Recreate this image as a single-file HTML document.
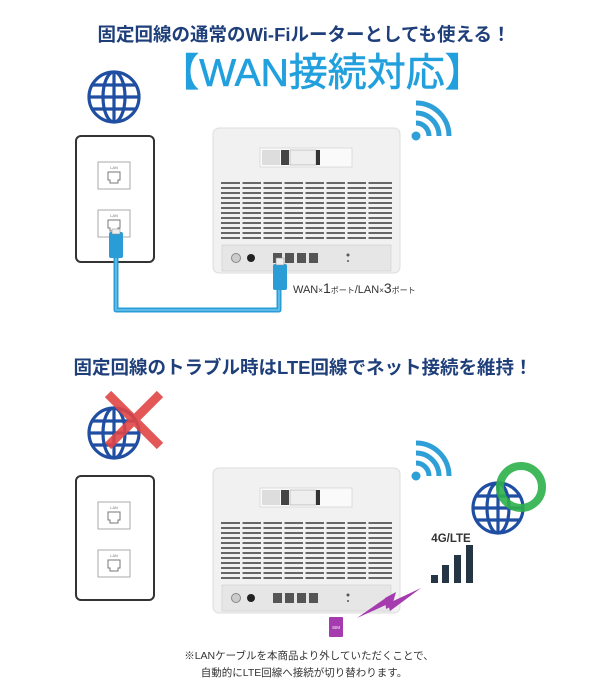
<!DOCTYPE html>
<html><head><meta charset="utf-8"><style>
html,body{margin:0;padding:0;background:#fff;}
svg{display:block}
text{font-family:"Liberation Sans","Noto Sans CJK JP",sans-serif;}
</style></head><body>
<svg width="614" height="700" viewBox="0 0 614 700" xmlns="http://www.w3.org/2000/svg">
<defs>
<g id="globe" fill="none" stroke="#1f4ea3" stroke-width="3.2">
  <circle cx="0" cy="0" r="25"/>
  <ellipse cx="0" cy="0" rx="11" ry="25"/>
  <line x1="0" y1="-25" x2="0" y2="25"/>
  <line x1="-25" y1="0" x2="25" y2="0"/>
  <line x1="-21" y1="-12" x2="21" y2="-12"/>
  <line x1="-21" y1="12" x2="21" y2="12"/>
</g>
<g id="wifi" fill="none" stroke="#2f9fd8" stroke-width="5" stroke-linecap="butt">
  <circle cx="0" cy="0" r="4.5" fill="#2f9fd8" stroke="none"/>
  <path d="M0,-13 A13,13 0 0 1 13,0"/>
  <path d="M0,-23 A23,23 0 0 1 23,0"/>
  <path d="M0,-33 A33,33 0 0 1 33,0"/>
</g>
<g id="lanbox">
  <rect x="0" y="0" width="32" height="27" fill="#fff" stroke="#aaa" stroke-width="1"/>
  <text x="16" y="7" font-size="4" text-anchor="middle" fill="#777">LAN</text>
  <path d="M10,10 h12 v8 h-2 v3 h-8 v-3 h-2 z" fill="none" stroke="#777" stroke-width="1"/>
</g>
<g id="router">
  <rect x="0" y="0" width="187" height="145" rx="6" fill="#f1f1f1" stroke="#ddd"/>
  <rect x="47" y="20" width="92" height="19" fill="#fafafa" stroke="#ccc" stroke-width="0.6"/>
  <rect x="49" y="22" width="18" height="15" fill="#ddd"/>
  <rect x="68" y="22" width="8" height="15" fill="#444"/>
  <rect x="77" y="22" width="26" height="15" fill="#eee" stroke="#999" stroke-width="0.5"/>
  <rect x="103" y="22" width="4" height="15" fill="#333"/>
  <g fill="#666">
    <rect x="8" y="54" width="171" height="2"/><rect x="8" y="59" width="171" height="2"/>
    <rect x="8" y="64" width="171" height="2"/><rect x="8" y="69" width="171" height="2"/>
    <rect x="8" y="74" width="171" height="2"/><rect x="8" y="79" width="171" height="2"/>
    <rect x="8" y="84" width="171" height="2"/><rect x="8" y="89" width="171" height="2"/>
    <rect x="8" y="94" width="171" height="2"/><rect x="8" y="99" width="171" height="2"/>
    <rect x="8" y="104" width="171" height="2"/><rect x="8" y="109" width="171" height="2"/>
  </g>
  <g fill="#f1f1f1">
    <rect x="27" y="52" width="2.5" height="62"/><rect x="48" y="52" width="2.5" height="62"/>
    <rect x="69" y="52" width="2.5" height="62"/><rect x="90" y="52" width="2.5" height="62"/>
    <rect x="111" y="52" width="2.5" height="62"/><rect x="132" y="52" width="2.5" height="62"/>
    <rect x="153" y="52" width="2.5" height="62"/>
  </g>
  <rect x="9" y="117" width="169" height="26" fill="#e6e6e6" stroke="#ccc" stroke-width="0.6"/>
  <circle cx="23" cy="130" r="4.5" fill="#ccc" stroke="#888"/>
  <circle cx="38" cy="130" r="4" fill="#222"/>
  <g fill="#555">
    <path d="M60,125 h9 v10 h-9 z"/><path d="M72,125 h9 v10 h-9 z"/>
    <path d="M84,125 h9 v10 h-9 z"/><path d="M96,125 h9 v10 h-9 z"/>
  </g>
  <circle cx="135" cy="127" r="1.5" fill="#555"/><circle cx="135" cy="133" r="1" fill="#555"/>
</g>
</defs>

<text x="304" y="41" font-size="18.5" font-weight="bold" fill="#1f3f7a" text-anchor="middle">固定回線の通常のWi-Fiルーターとしても使える！</text>
<text x="322" y="86" font-size="39" fill="#22a0dd" text-anchor="middle" stroke="#22a0dd" stroke-width="0.6">【WAN接続対応】</text>

<use href="#globe" x="114" y="97"/>
<rect x="76" y="136" width="78" height="126" rx="5" fill="#fff" stroke="#333" stroke-width="2"/>
<use href="#lanbox" x="98" y="162"/>
<use href="#lanbox" x="98" y="210"/>
<use href="#router" x="213" y="128"/>
<use href="#wifi" x="416" y="136"/>

<path d="M116,255 V310 H279 V280" fill="none" stroke="#2a9dd6" stroke-width="5" stroke-linejoin="round"/>
<path d="M116,250 V310 H279 V280" fill="none" stroke="#6cc3ec" stroke-width="1.5"/>
<rect x="109" y="232" width="14" height="26" rx="2" fill="#2a9dd6"/>
<rect x="112" y="229" width="8" height="5" fill="#eee" stroke="#888" stroke-width="0.5"/>
<rect x="273" y="264" width="14" height="26" rx="2" fill="#2a9dd6"/>
<rect x="276" y="258" width="8" height="7" fill="#eee" stroke="#888" stroke-width="0.5"/>
<text x="293" y="293" font-size="11" fill="#333">WAN<tspan font-size="8">×</tspan><tspan font-size="14">1</tspan><tspan font-size="8">ポート</tspan>/LAN<tspan font-size="8">×</tspan><tspan font-size="14">3</tspan><tspan font-size="8">ポート</tspan></text>

<text x="303" y="374" font-size="18.5" font-weight="bold" fill="#1f3f7a" text-anchor="middle">固定回線のトラブル時はLTE回線でネット接続を維持！</text>
<use href="#globe" x="114" y="433"/>
<g stroke="#e04545" stroke-width="9" opacity="0.9">
  <line x1="108" y1="394" x2="160" y2="446"/>
  <line x1="160" y1="394" x2="108" y2="446"/>
</g>
<rect x="76" y="476" width="78" height="124" rx="5" fill="#fff" stroke="#333" stroke-width="2"/>
<use href="#lanbox" x="98" y="502"/>
<use href="#lanbox" x="98" y="550"/>
<use href="#router" x="213" y="468"/>
<use href="#wifi" x="416" y="476"/>
<use href="#globe" x="498" y="508"/>
<circle cx="521" cy="487" r="21" fill="none" stroke="#2db04a" stroke-width="8" opacity="0.9"/>
<text x="451" y="542" font-size="11.5" font-weight="bold" fill="#333" text-anchor="middle">4G/LTE</text>
<g fill="#263544">
  <rect x="431" y="575" width="7" height="8"/>
  <rect x="442" y="565" width="7" height="18"/>
  <rect x="454" y="555" width="7" height="28"/>
  <rect x="466" y="545" width="7" height="38"/>
</g>
<polygon points="357,618 387,597 389,603 421,588 390,611 388,604" fill="#a63bb0"/>
<polygon points="385,598 396,592 392,606 386,609" fill="#a63bb0"/>
<rect x="329" y="617" width="14" height="20" rx="1" fill="#a63bb0"/>
<text x="336" y="629" font-size="4.5" fill="#fff" text-anchor="middle">SIM</text>
<text x="309" y="659" font-size="10.5" fill="#333" text-anchor="middle">※LANケーブルを本商品より外していただくことで、</text>
<text x="304" y="676" font-size="10.5" fill="#333" text-anchor="middle">自動的にLTE回線へ接続が切り替わります。</text>
</svg>
</body></html>
